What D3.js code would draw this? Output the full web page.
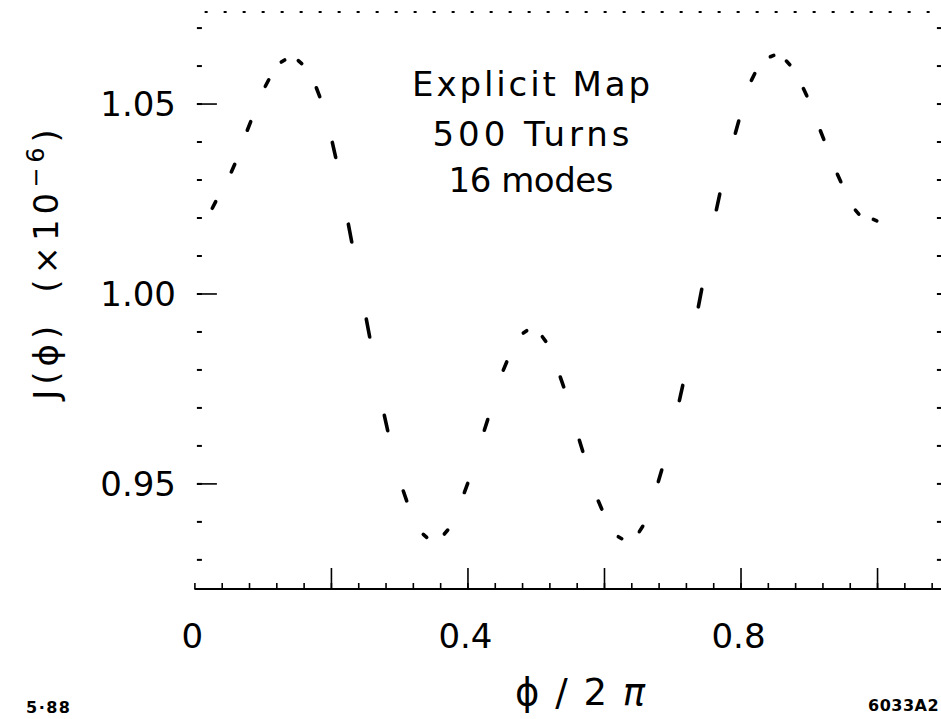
<!DOCTYPE html>
<html>
<head>
<meta charset="utf-8">
<script src="https://cdn.jsdelivr.net/npm/d3@7"></script>
<style>
  html, body { margin: 0; padding: 0; background: #fff; }
  svg { display: block; }
  text { font-family: "DejaVu Sans", "Liberation Sans", sans-serif; fill: #000; }
</style>
</head>
<body>
<svg id="chart" width="941" height="719"></svg>
<script>
// Action J(phi) sampled around the ring, phi in units of 2*pi
const phi = [0.0287, 0.0566, 0.0800, 0.1064, 0.1298, 0.1547, 0.1811, 0.2045, 0.2280, 0.2543,
             0.2807, 0.3085, 0.3378, 0.3686, 0.3979, 0.4272, 0.4550, 0.4843, 0.5122, 0.5385,
             0.5664, 0.5942, 0.6235, 0.6543, 0.6821, 0.7129, 0.7407, 0.7671, 0.7949, 0.8184,
             0.8462, 0.8697, 0.8946, 0.9195, 0.9444, 0.9708, 0.9971];
const J =   [1.0233, 1.0330, 1.0441, 1.0554, 1.0612, 1.0609, 1.0530, 1.0378, 1.0159, 0.9909,
             0.9659, 0.9467, 0.9362, 0.9372, 0.9488, 0.9654, 0.9809, 0.9899, 0.9880, 0.9767,
             0.9599, 0.9443, 0.9357, 0.9380, 0.9520, 0.9738, 0.9988, 1.0241, 1.0438, 1.0570,
             1.0625, 1.0607, 1.0530, 1.0417, 1.0304, 1.0214, 1.0193];

// Axis ticks and labels
const xMajorTicks = [0.2, 0.4, 0.6, 0.8, 1.0];
const xLabelValues = [0, 0.4, 0.8];
const xLabels = ["0", "0.4", "0.8"];
const yMajorTicks = [0.95, 1.00, 1.05];
const yLabels = ["0.95", "1.00", "1.05"];
const annotation = ["Explicit Map", "500 Turns", "16 modes"];

const svg = d3.select("#chart");

const x = d3.scaleLinear().domain([0, 1.095]).range([194.4, 941.9]);
const y = d3.scaleLinear().domain([0.9222, 1.0741]).range([589, 12]);

const xMinor = d3.range(0, 1.095, 0.04);
const yMinor = d3.range(0.93, 1.0705, 0.01);

// Bottom axis: solid line, ticks pointing inward
const gx = svg.append("g").attr("transform", `translate(0,${y.range()[0]})`);
gx.call(d3.axisBottom(x).tickValues(xMinor).tickSize(-6).tickFormat(""));
gx.select(".domain").attr("stroke-width", 2.2).attr("d", `M${x(0)},0H${x.range()[1]}`);
gx.selectAll(".tick line").attr("stroke-width", 1.6);
const gxMaj = svg.append("g").attr("transform", `translate(0,${y.range()[0]})`);
gxMaj.call(d3.axisBottom(x).tickValues(xMajorTicks).tickSize(-21).tickFormat(""));
gxMaj.select(".domain").remove();
gxMaj.selectAll(".tick line").attr("stroke-width", 1.6);

// Top frame edge: faint dotted line
svg.append("line")
  .attr("x1", x(0.015)).attr("x2", x.range()[1])
  .attr("y1", y.range()[1]).attr("y2", y.range()[1])
  .attr("stroke", "#000").attr("stroke-width", 2)
  .attr("stroke-dasharray", "3 16");

// Left axis: ticks only
const gy = svg.append("g").attr("transform", `translate(${x(0) + 2.5},0)`);
gy.call(d3.axisRight(y).tickValues(yMinor).tickSize(5).tickFormat(""));
gy.select(".domain").remove();
gy.selectAll(".tick line").attr("stroke-width", 2);
const gyMaj = svg.append("g").attr("transform", `translate(${x(0) + 2.5},0)`);
gyMaj.call(d3.axisRight(y).tickValues(yMajorTicks).tickSize(20).tickFormat(""));
gyMaj.select(".domain").remove();
gyMaj.selectAll(".tick line").attr("stroke-width", 1.6);

// Right axis: ticks only, pointing inward
const gr = svg.append("g").attr("transform", `translate(${x.range()[1]},0)`);
gr.call(d3.axisLeft(y).tickValues(yMinor).tickSize(5).tickFormat(""));
gr.select(".domain").remove();
gr.selectAll(".tick line").attr("stroke-width", 2);

// Tick labels
svg.append("g").selectAll("text").data(xLabelValues).join("text")
  .attr("x", d => x(d) - 2).attr("y", 648)
  .attr("text-anchor", "middle").attr("font-size", 34)
  .text((d, i) => xLabels[i]);

svg.append("g").selectAll("text").data(yMajorTicks).join("text")
  .attr("x", 176).attr("y", d => y(d)).attr("dy", "0.36em")
  .attr("text-anchor", "end").attr("font-size", 34)
  .text((d, i) => yLabels[i]);

// Axis titles
svg.append("text")
  .attr("x", 581).attr("y", 705)
  .attr("text-anchor", "middle").attr("font-size", 37)
  .attr("letter-spacing", 2)
  .html('ϕ / 2 <tspan font-style="italic">π</tspan>');

const yTitle = svg.append("text")
  .attr("transform", "translate(58,262) rotate(-90)")
  .attr("text-anchor", "middle").attr("font-size", 34)
  .attr("letter-spacing", 5);
yTitle.append("tspan").text("J(ϕ)");
yTitle.append("tspan").attr("dx", 28).text("(×10");
yTitle.append("tspan").attr("font-size", 24).attr("dy", -14).text("−6");
yTitle.append("tspan").attr("dy", 14).text(")");

// Run description
svg.append("g").selectAll("text").data(annotation).join("text")
  .attr("x", 531).attr("y", (d, i) => [96, 146, 192][i])
  .attr("text-anchor", "middle").attr("font-size", 34)
  .attr("textLength", (d, i) => [238, 197, 165][i])
  .attr("lengthAdjust", "spacing")
  .text(d => d);

// Figure codes
svg.append("text").attr("x", 26).attr("y", 713)
  .attr("font-size", 16).attr("font-weight", "bold").attr("letter-spacing", 1.5)
  .text("5·88");
svg.append("text").attr("x", 868).attr("y", 711)
  .attr("font-size", 16).attr("font-weight", "bold").attr("letter-spacing", 0.5)
  .text("6033A2");

// Curve: one short stroke at each sample, laid along the local slope of J(phi)
const px = phi.map(p => x(p));
const py = J.map(v => y(v));
const half = 1.7; // half-width of each stroke along phi, in pixels
const dashes = px.map((cx, i) => {
  const a = Math.max(0, i - 1), b = Math.min(px.length - 1, i + 1);
  const slope = (py[b] - py[a]) / (px[b] - px[a]);
  return { x1: cx - half, y1: py[i] - slope * half, x2: cx + half, y2: py[i] + slope * half };
});

svg.append("g").selectAll("line").data(dashes).join("line")
  .attr("x1", d => d.x1).attr("y1", d => d.y1)
  .attr("x2", d => d.x2).attr("y2", d => d.y2)
  .attr("stroke", "#000").attr("stroke-width", 3.6)
  .attr("stroke-linecap", "round");
</script>
</body>
</html>
